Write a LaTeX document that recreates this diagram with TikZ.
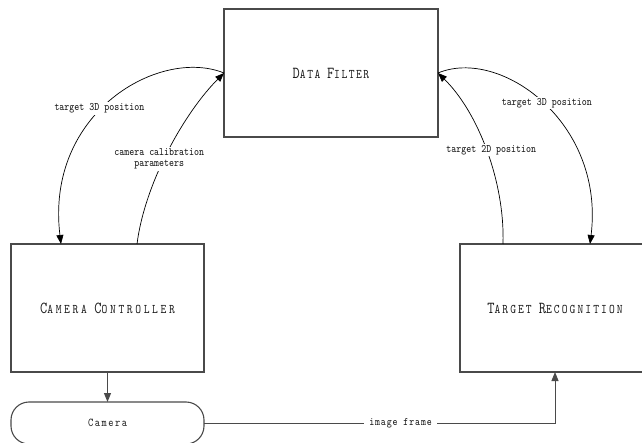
\documentclass[tikz,border=0pt]{standalone}
\usepackage{fontspec}
\setmonofont{Latin Modern Mono}
\newfontfamily\dfam{Latin Modern Mono}[LetterSpace=14]
\newfontfamily\cfam{Latin Modern Mono}[LetterSpace=24]
\newfontfamily\tfam{Latin Modern Mono}[LetterSpace=19]
\newfontfamily\camfam{Latin Modern Mono}[LetterSpace=15]
\newfontfamily\imgfam{Latin Modern Mono}[LetterSpace=9]
\usetikzlibrary{arrows.meta,calc}
\definecolor{boxgray}{HTML}{4A4A4A}
\newcommand{\lblfont}{\ttfamily\fontsize{9.5}{11.5}\selectfont}
\newcommand{\scbig}[1]{{\fontsize{14}{14}\selectfont #1}}
\newcommand{\scsmall}[1]{{\fontsize{11}{14}\selectfont #1}}
\newcommand{\tall}[1]{\scalebox{1}[1.2]{#1}}
\tikzset{
  box/.style={draw=boxgray, line width=1.1pt, inner sep=0pt, outer sep=0pt, text=black!90},
  link/.style={draw=black, line width=0.7pt, -{Triangle[length=9pt,width=7pt]}},
  lbl/.style={fill=white, font=\lblfont, inner sep=1.5pt, align=center, text=black!90}
}
\begin{document}
\begin{tikzpicture}[x=1pt,y=1pt]
\useasboundingbox (0,0) rectangle (642,442);
\clip (0,0) rectangle (642,442);
% boxes
\node[box, minimum width=214pt, minimum height=128pt] (df) at (331,369)
  {\dfam\tall{\scbig{D}\scsmall{ATA} \scbig{F}\scsmall{ILTER}}};
\node[box, minimum width=193pt, minimum height=128pt] (cc) at (107.5,134)
  {\cfam\tall{\scbig{C}\scsmall{AMERA} \scbig{C}\scsmall{ONTROLLER}}};
\node[box, minimum width=190pt, minimum height=128pt] (tr) at (555,134)
  {\tfam\tall{\scbig{T}\scsmall{ARGET} \scbig{R}\scsmall{ECOGNITION}}};
\node[box, rounded corners=18pt, minimum width=193pt, minimum height=42pt] (cam) at (107.5,19)
  {\camfam\fontsize{10}{12}\selectfont\tall{Camera}};
% anchors on box tops
\coordinate (ccA) at ([xshift=-46.5pt]cc.north);
\coordinate (ccB) at ([xshift=29.5pt]cc.north);
\coordinate (trA) at ([xshift=-52pt]tr.north);
\coordinate (trB) at ([xshift=35pt]tr.north);
% curves
\draw[link] (df.west) .. controls +(-64,26) and +(-16,132) .. (ccA)
  node[lbl, pos=0.55, xshift=-3pt] {\tall{target 3D position}};
\draw[link] (ccB) .. controls +(8,62) and +(-39,-39) .. (df.west)
  node[lbl, pos=0.45, xshift=-5pt] {\tall{camera calibration}\\\tall{parameters}};
\draw[link] (trA) .. controls +(2,62) and +(40,-39) .. (df.east)
  node[lbl, pos=0.5, xshift=5pt] {\tall{target 2D position}};
\draw[link] (df.east) .. controls +(62,26) and +(15,122) .. (trB)
  node[lbl, pos=0.5, xshift=4pt] {\tall{target 3D position}};
% lower connectors
\draw[link, draw=boxgray, line width=0.9pt] (cc.south) -- (cam.north);
\draw[link, draw=boxgray, line width=0.9pt] (cam.east) -| (tr.south)
  node[lbl, pos=0.28, inner xsep=5pt, font=\imgfam\fontsize{9.5}{11}\selectfont] {\tall{image frame}};
\end{tikzpicture}
\end{document}
